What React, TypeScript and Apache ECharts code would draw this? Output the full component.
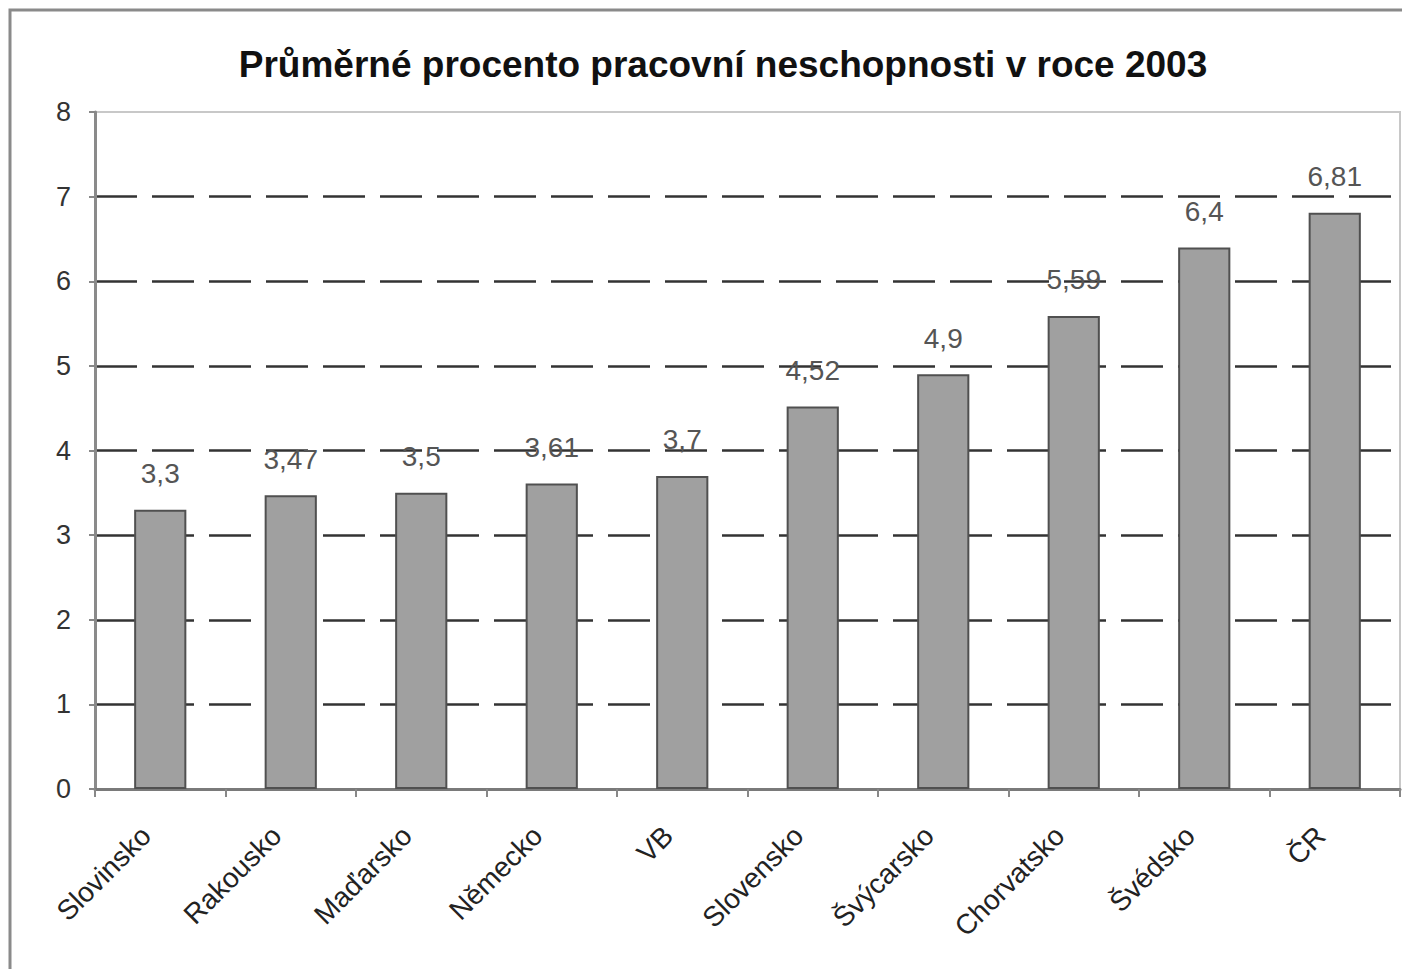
import React, { useEffect, useRef } from "react";
import * as echarts from "echarts";

const title = "Průměrné procento pracovní neschopnosti v roce 2003";
const categories = ["Slovinsko", "Rakousko", "Maďarsko", "Německo", "VB", "Slovensko", "Švýcarsko", "Chorvatsko", "Švédsko", "ČR"];
const values = [3.3, 3.47, 3.5, 3.61, 3.7, 4.52, 4.9, 5.59, 6.4, 6.81];
const yMin = 0;
const yMax = 8;
const yInterval = 1;

export default function App() {
  const ref = useRef<HTMLDivElement>(null);
  useEffect(() => {
    const chart = echarts.init(ref.current!, null, { renderer: "svg" });
    chart.setOption({
      animation: false,
      backgroundColor: "#fff",
      textStyle: { fontFamily: "Liberation Sans, Arial, sans-serif" },
      title: {
        text: title,
        left: 718,
        textAlign: "center",
        top: 41,
        textStyle: { fontSize: 37, fontWeight: "bold", color: "#111", fontFamily: "Liberation Sans, Arial, sans-serif" },
      },
      graphic: [
        {
          type: "rect",
          shape: { x: 10, y: 10, width: 1420, height: 1000 },
          style: { fill: "none", stroke: "#8a8a8a", lineWidth: 3 },
          silent: true,
        },
      ],
      grid: {
        left: 95,
        right: 2,
        top: 112,
        bottom: 180,
        show: true,
        borderColor: "#c8c8c8",
        borderWidth: 2,
        backgroundColor: "transparent",
      },
      xAxis: {
        type: "category",
        data: categories,
        axisLine: { lineStyle: { color: "#7a7a7a", width: 3 } },
        axisTick: { show: true, length: 8, lineStyle: { color: "#888", width: 2 }, alignWithLabel: false },
        axisLabel: { rotate: 45, fontSize: 28, color: "#222", margin: 28, padding: [0, 20, 0, 0], interval: 0 },
        splitLine: { show: false },
      },
      yAxis: {
        type: "value",
        min: yMin,
        max: yMax,
        interval: yInterval,
        axisLine: { show: true, lineStyle: { color: "#8a8a8a", width: 3 } },
        axisTick: { show: true, length: 6, lineStyle: { color: "#888", width: 2 } },
        axisLabel: { fontSize: 27, color: "#333", margin: 24 },
        splitLine: {
          show: true,
          showMinLine: false,
          showMaxLine: false,
          lineStyle: { color: "#333", width: 2.5, type: [42, 15] },
        },
      },
      series: [
        {
          type: "bar",
          data: values,
          barWidth: "40%",
          itemStyle: { color: "#a0a0a0", borderColor: "#505050", borderWidth: 2 },
          label: {
            show: true,
            position: "top",
            distance: 22,
            fontSize: 28,
            color: "#555",
            formatter: (p: any) => String(p.value).replace(".", ","),
          },
        },
      ],
    });
    return () => chart.dispose();
  }, []);
  return <div ref={ref} style={{ position: "fixed", left: 0, top: 0, width: 1402, height: 969 }} />;
}
